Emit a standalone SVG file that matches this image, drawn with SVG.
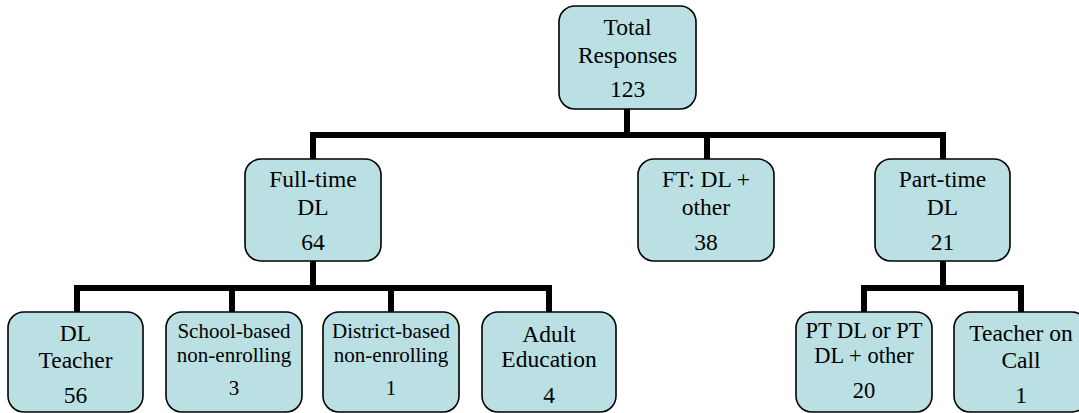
<svg xmlns="http://www.w3.org/2000/svg" width="1079" height="413" viewBox="0 0 1079 413">
<style>
.box{fill:#bbe0e3;stroke:#000;stroke-width:1.6}
.c{fill:none;stroke:#000;stroke-width:6;stroke-linejoin:miter}
</style>
<rect width="1079" height="413" fill="#fff"/>
<g id="connectors">
<path class="c" d="M627,109V135M313,159V135H943V159M707,135V159"/>
<path class="c" d="M313,261V288M77,312V288H549V312M232,288V312M391,288V312"/>
<path class="c" d="M943,261V288M864,312V288H1021V312"/>
</g>
<g font-family="Liberation Serif, Times New Roman, DejaVu Serif, serif" font-size="23.5" text-anchor="middle" fill="#000">
<g id="n-total">
<rect class="box" x="559" y="6" width="137" height="103" rx="16"/>
<text x="627.5" y="35">Total</text>
<text x="627.5" y="63">Responses</text>
<text x="627.5" y="97">123</text>
</g>
<g id="n-fulltime">
<rect class="box" x="245" y="159" width="136" height="102" rx="16"/>
<text x="313" y="187">Full-time</text>
<text x="313" y="215">DL</text>
<text x="313" y="250">64</text>
</g>
<g id="n-ftother">
<rect class="box" x="638" y="159" width="136" height="102" rx="16"/>
<text x="706" y="187">FT: DL +</text>
<text x="706" y="215">other</text>
<text x="706" y="250">38</text>
</g>
<g id="n-parttime">
<rect class="box" x="875" y="159" width="135" height="102" rx="16"/>
<text x="942.5" y="187">Part-time</text>
<text x="942.5" y="215">DL</text>
<text x="942.5" y="250">21</text>
</g>
<g id="n-dlteacher">
<rect class="box" x="8" y="312" width="135" height="100" rx="16"/>
<text x="75.5" y="341">DL</text>
<text x="75.5" y="368">Teacher</text>
<text x="75.5" y="403">56</text>
</g>
<g id="n-school" font-size="21">
<rect class="box" x="166" y="312" width="136" height="100" rx="16"/>
<text x="234" y="338">School-based</text>
<text x="234" y="362">non-enrolling</text>
<text x="234" y="395">3</text>
</g>
<g id="n-district" font-size="21">
<rect class="box" x="323" y="312" width="136" height="100" rx="16"/>
<text x="391" y="338">District-based</text>
<text x="391" y="362">non-enrolling</text>
<text x="391" y="395">1</text>
</g>
<g id="n-adult">
<rect class="box" x="482" y="312" width="134" height="100" rx="16"/>
<text x="549" y="342">Adult</text>
<text x="549" y="367">Education</text>
<text x="549" y="403">4</text>
</g>
<g id="n-ptdl" font-size="22.5">
<rect class="box" x="796" y="312" width="136" height="100" rx="16"/>
<text x="864" y="338">PT DL or PT</text>
<text x="864" y="363">DL + other</text>
<text x="864" y="398">20</text>
</g>
<g id="n-toc">
<rect class="box" x="954" y="312" width="134" height="100" rx="16"/>
<text x="1021" y="341">Teacher on</text>
<text x="1021" y="368">Call</text>
<text x="1021" y="403">1</text>
</g>
</g>
</svg>
